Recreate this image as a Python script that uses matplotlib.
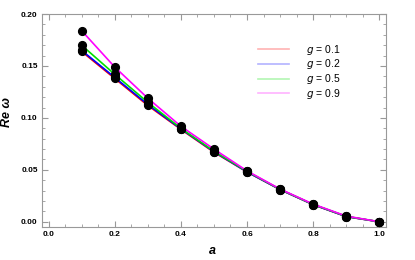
import numpy as np
import matplotlib.pyplot as plt
from matplotlib.lines import Line2D
from matplotlib.ticker import MultipleLocator

plt.rcParams['font.family'] = ['Liberation Sans', 'DejaVu Sans']

a = [0.1, 0.2, 0.3, 0.4, 0.5, 0.6, 0.7, 0.8, 0.9, 1.0]
g_labels = ['0.1', '0.2', '0.5', '0.9']
re_g01 = [0.164, 0.138, 0.112, 0.089, 0.067, 0.048, 0.031, 0.0165, 0.005, 0.0]
re_g02 = [0.165, 0.139, 0.113, 0.0895, 0.0675, 0.048, 0.031, 0.0165, 0.005, 0.0]
re_g05 = [0.170, 0.142, 0.115, 0.090, 0.068, 0.0485, 0.0312, 0.0167, 0.0052, 0.0]
re_g09 = [0.184, 0.149, 0.119, 0.092, 0.070, 0.049, 0.0315, 0.017, 0.0055, 0.0]
colors = ['#ff0000', '#0000ff', '#00e000', '#ff00ff']

fig = plt.figure(figsize=(4.15, 2.6), dpi=100)
ax = fig.add_axes([0.101, 0.127, 0.829, 0.819])

for ys, c in zip([re_g01, re_g02, re_g05, re_g09], colors):
    ax.plot(a, ys, color=c, lw=1.2, zorder=2)
for ys in [re_g01, re_g02, re_g05, re_g09]:
    ax.plot(a, ys, 'o', color='black', ms=5.6, zorder=3)

ax.set_xlim(-0.02, 1.02)
ax.set_ylim(-0.005, 0.20)
ax.xaxis.set_major_locator(MultipleLocator(0.2))
ax.xaxis.set_minor_locator(MultipleLocator(0.05))
ax.yaxis.set_major_locator(MultipleLocator(0.05))
ax.yaxis.set_minor_locator(MultipleLocator(0.01))
ax.xaxis.set_major_formatter(plt.FuncFormatter(lambda v, p: f'{v:.1f}'))
ax.yaxis.set_major_formatter(plt.FuncFormatter(lambda v, p: f'{v:.2f}'))

ax.tick_params(which='both', direction='in', top=True, right=True,
               color='#999999', labelsize=6, pad=3)
ax.tick_params(which='major', length=4, width=0.8)
ax.tick_params(which='minor', length=2, width=0.6)
for lab in ax.get_xticklabels() + ax.get_yticklabels():
    lab.set_fontweight('bold')
for s in ax.spines.values():
    s.set_color('#999999')
    s.set_linewidth(0.8)

ax.set_xlabel('a', fontsize=9, fontweight='bold', style='italic')
ax.set_ylabel('Re ω', fontsize=9, fontweight='bold', style='italic')
ax.xaxis.set_label_coords(0.495, -0.085)
ax.yaxis.set_label_coords(-0.084, 0.54)

handles = [Line2D([], [], color=c, lw=1.2, alpha=0.3) for c in colors]
labels = [f'$g$ = {v}' for v in g_labels]
ax.legend(handles, labels, loc='upper left', bbox_to_anchor=(0.6, 0.91),
          frameon=False, fontsize=7.5, handlelength=3.0, handletextpad=1.6,
          labelspacing=0.08)

fig.savefig('out.png', dpi=100)
